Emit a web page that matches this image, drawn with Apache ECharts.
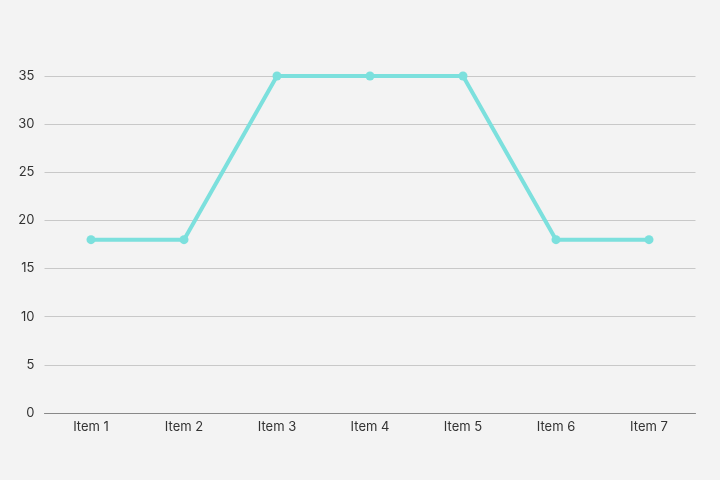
<!DOCTYPE html>
<html><head><meta charset="utf-8">
<script src="https://cdn.jsdelivr.net/npm/echarts@6/dist/echarts.min.js"></script>
<style>html,body{margin:0;padding:0;background:#f3f3f3;}#c{width:720px;height:480px;}</style>
</head><body><div id="c"></div>
<script>
const categories = ["Item 1","Item 2","Item 3","Item 4","Item 5","Item 6","Item 7"];
const values = [18,18,35,35,35,18,18];
const chart = echarts.init(document.getElementById('c'));
chart.setOption({
  backgroundColor:'#f3f3f3',
  grid:{left:44.5,right:24.5,top:76,bottom:67},
  xAxis:{type:'category',data:categories,boundaryGap:true,
    axisLine:{lineStyle:{color:'#888',width:1}},axisTick:{show:false},
    axisLabel:{color:'#333',fontSize:13,fontFamily:'Inter',margin:8}},
  yAxis:{type:'value',min:0,max:35,interval:5,
    axisLine:{show:false},axisTick:{show:false},
    axisLabel:{color:'#333',fontSize:13,fontFamily:'Inter',margin:10},
    splitLine:{lineStyle:{color:'#c8c8c8',width:1}}},
  series:[{type:'line',data:values,symbol:'circle',symbolSize:9,
    lineStyle:{color:'#7ce0dd',width:4},itemStyle:{color:'#7ce0dd'}}]
});
</script></body></html>
